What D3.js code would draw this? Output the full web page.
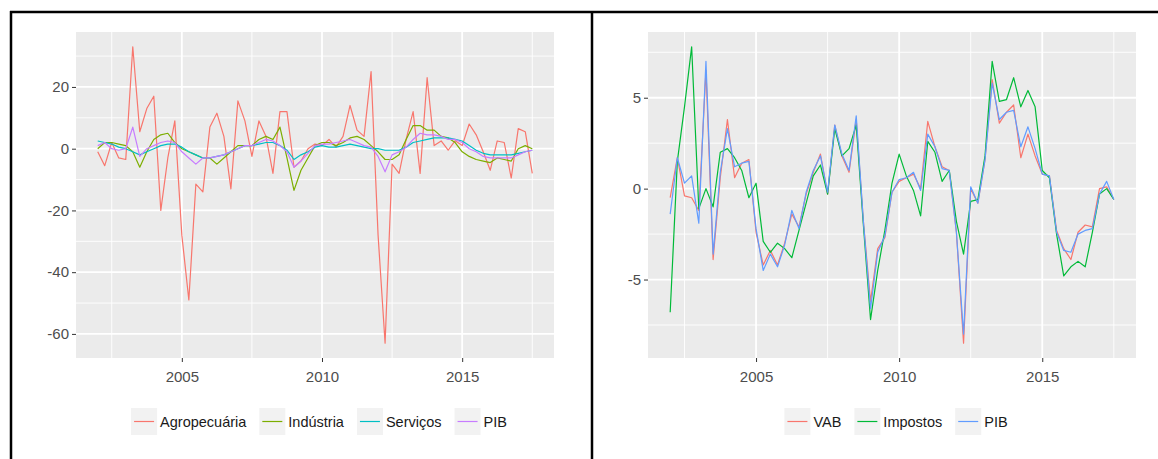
<!DOCTYPE html>
<html>
<head>
<meta charset="utf-8">
<script src="https://cdn.jsdelivr.net/npm/d3@7"></script>
<style>
  body { margin: 0; background: #fff; }
  svg { display: block; font-family: "Liberation Sans", Arial, sans-serif; }
</style>
</head>
<body>
<div id="chart"></div>
<script>
// quarterly rates, 2002Q1 .. 2017Q3
const quarters = d3.range(63).map(i => 2002 + i / 4)

// left panel: by sector
const agropecuaria = [-1, -5.5, 2, -3, -3.5, 33, 5.5, 13, 17, -20, -3, 9, -28, -49, -11.5, -14,
  7, 11.5, 4, -13, 15.5, 9, -2.5, 9, 4, -8, 12, 12, -6, -4, 0, 1.5, 1, 3, 0.5, 4, 14, 6, 4, 25,
  -28, -63, -5, -8, 3, 12, -8, 23, 1, 2.5, -0.5, 2.6, 1, 8, 4.5, -1, -7, 2.5, 2, -9.5, 6.5, 5.5, -8]
const industria = [0, 2, 2, 1.5, 1, -1, -6, -1, 3, 4.5, 5, 2, 0, -1, -2, -3, -3, -5, -3, -1,
  1, 1, 1, 3, 4, 3, 7, -3, -13.5, -7, -3, 1, 2, 2, 1, 2, 3.5, 4, 3, 1, -1, -3.5, -3.5, -2, 3,
  7.5, 7.5, 6, 6, 4, 3.5, 2, -1, -2.5, -3.5, -4, -4.5, -3, -3.5, -4, 0, 1, 0]
const servicos = [2.5, 2, 1.5, 0.5, 0, -1, -2, -1, 0, 1, 1.5, 1.5, 0.5, -1, -2, -3, -3, -2.5,
  -2, -1, 0, 1, 1, 1.5, 2, 2, 1, -0.5, -3.5, -2, -1, 0.5, 1, 0.5, 0.5, 1, 1.5, 1, 0.5, 0, 0,
  -0.5, -0.5, -0.5, 0.5, 2, 2.5, 3, 3.5, 3.5, 3.5, 3, 2.5, 1, -0.5, -1.5, -2, -2, -2, -2, -1.5, -1, -0.5]
const pibSetores = [1, 2, 0, -0.5, 0, 7, -2.5, 0, 1, 2, 2.5, 2, -1, -3, -5, -3, -3, -2.5, -2,
  -1, 0, 1, 1, 2, 3, 2.5, 1, -1, -6, -4, -1.5, 1, 1.5, 1.5, 2, 2.5, 3, 2, 1, 0.5, -2.5, -7.5,
  -2, -1, 0.5, 3, 5, 4.5, 4.5, 4, 3, 3, 2, 0, -1, -2.5, -3, -3, -3, -3, -2, -1, -0.5]

// right panel: value added and taxes
const vab = [-0.5, 1.7, -0.4, -0.5, -1.2, 6.5, -3.9, 0.6, 3.8, 0.6, 1.4, 1.6, -2.4, -4.2, -3.4,
  -4.2, -3.0, -1.4, -2.1, -0.3, 0.9, 1.9, -0.3, 3.5, 1.8, 0.9, 3.8, -1.8, -6.2, -3.3, -2.7, -0.2,
  0.4, 0.6, 0.8, 0.0, 3.7, 2.3, 1.2, 1.0, -2.4, -8.5, 0.0, -0.8, 1.6, 6.0, 3.6, 4.2, 4.6, 1.7,
  3.0, 1.8, 0.8, 0.7, -2.3, -3.3, -3.9, -2.4, -2.0, -2.1, 0.0, 0.1, -0.6]
const impostos = [-6.8, 1.5, 4.5, 7.8, -1.1, 0.0, -1.0, 2.0, 2.2, 1.7, 1.0, -0.5, 0.3, -2.9, -3.5,
  -3.0, -3.3, -3.8, -2.3, -0.8, 0.7, 1.3, -0.3, 3.3, 1.8, 2.2, 3.5, -2.0, -7.2, -4.5, -2.3, 0.3,
  1.9, 0.7, -0.1, -1.5, 2.6, 2.0, 0.4, 1.0, -1.8, -3.6, -0.7, -0.6, 1.8, 7.0, 4.8, 4.9, 6.1, 4.5,
  5.4, 4.5, 1.0, 0.6, -2.5, -4.8, -4.3, -4.0, -4.3, -2.4, -0.3, 0.0, -0.6]
const pibDemanda = [-1.4, 1.7, 0.3, 0.7, -1.9, 7.0, -3.6, 0.9, 3.3, 1.2, 1.4, 1.5, -2.2, -4.5, -3.6,
  -4.3, -3.1, -1.2, -2.2, -0.2, 1.0, 1.8, -0.2, 3.5, 1.9, 1.0, 4.0, -1.8, -6.6, -3.5, -2.6, -0.2,
  0.5, 0.6, 0.9, -0.1, 3.0, 2.3, 1.1, 1.0, -2.4, -8.0, 0.1, -0.8, 1.6, 5.8, 3.8, 4.2, 4.3, 2.3,
  3.4, 2.2, 0.8, 0.7, -2.4, -3.4, -3.5, -2.5, -2.3, -2.2, -0.3, 0.4, -0.6]

const xTicks = [2005, 2010, 2015]
const yTicksSetores = [-60, -40, -20, 0, 20]
const yTicksDemanda = [-5, 0, 5]

const setores = [
  { name: 'Agropecuária', values: agropecuaria, color: '#F8766D' },
  { name: 'Indústria', values: industria, color: '#7CAE00' },
  { name: 'Serviços', values: servicos, color: '#00BFC4' },
  { name: 'PIB', values: pibSetores, color: '#C77CFF' }
]
const demanda = [
  { name: 'VAB', values: vab, color: '#F8766D' },
  { name: 'Impostos', values: impostos, color: '#00BA38' },
  { name: 'PIB', values: pibDemanda, color: '#619CFF' }
]

const W = 1158, H = 459

const svg = d3.select('#chart').append('svg')
  .attr('width', W)
  .attr('height', H)

svg.append('rect').attr('width', W).attr('height', H).attr('fill', '#fff')

// ggplot style 5% expansion
const expand = ([a, b]) => { const d = (b - a) * 0.05; return [a - d, b + d] }

// plain hyphen for negatives, like R
const fmt = d => String(d)

function minorBreaks(ticks, domain) {
  const step = ticks[1] - ticks[0]
  const out = []
  for (let v = ticks[0] - step / 2; v <= ticks[ticks.length - 1] + step / 2; v += step) {
    if (v >= domain[0] && v <= domain[1]) out.push(v)
  }
  return out
}

function drawPanel(box, series, yTicks) {
  const x = d3.scaleLinear().domain(expand(d3.extent(quarters))).range([box.left, box.right])
  const allValues = series.flatMap(s => s.values)
  const y = d3.scaleLinear().domain(expand(d3.extent(allValues))).range([box.bottom, box.top])

  const g = svg.append('g')

  g.append('rect')
    .attr('x', box.left).attr('y', box.top)
    .attr('width', box.right - box.left).attr('height', box.bottom - box.top)
    .attr('fill', '#EBEBEB')

  // grid
  const grid = g.append('g').attr('stroke', '#fff').attr('fill', 'none')
  minorBreaks(yTicks, y.domain()).forEach(v => {
    grid.append('line').attr('x1', box.left).attr('x2', box.right)
      .attr('y1', y(v)).attr('y2', y(v)).attr('stroke-width', 0.9)
  })
  minorBreaks(xTicks, x.domain()).forEach(v => {
    grid.append('line').attr('y1', box.top).attr('y2', box.bottom)
      .attr('x1', x(v)).attr('x2', x(v)).attr('stroke-width', 0.9)
  })
  yTicks.forEach(v => {
    grid.append('line').attr('x1', box.left).attr('x2', box.right)
      .attr('y1', y(v)).attr('y2', y(v)).attr('stroke-width', 1.8)
  })
  xTicks.forEach(v => {
    grid.append('line').attr('y1', box.top).attr('y2', box.bottom)
      .attr('x1', x(v)).attr('x2', x(v)).attr('stroke-width', 1.8)
  })

  // lines
  const line = d3.line()
    .x((d, i) => x(quarters[i]))
    .y(d => y(d))

  g.selectAll('.serie')
    .data(series)
    .enter().append('path')
      .attr('class', 'serie')
      .attr('d', d => line(d.values))
      .attr('fill', 'none')
      .attr('stroke', d => d.color)
      .attr('stroke-width', 1.2)
      .attr('stroke-linejoin', 'round')

  // axes
  function styleAxis(a) {
    a.select('.domain').remove()
    a.selectAll('.tick line').attr('stroke', '#333').attr('stroke-width', 1)
    a.selectAll('.tick text').attr('fill', '#4D4D4D').style('font-size', '15px')
  }

  g.append('g')
    .attr('transform', 'translate(0,' + box.bottom + ')')
    .call(d3.axisBottom(x).tickValues(xTicks).tickFormat(fmt).tickSize(4).tickPadding(9))
    .call(styleAxis)

  g.append('g')
    .attr('transform', 'translate(' + box.left + ',0)')
    .call(d3.axisLeft(y).tickValues(yTicks).tickFormat(fmt).tickSize(4).tickPadding(3))
    .call(styleAxis)

  // legend
  const legend = g.append('g')
  let pos = 0
  series.forEach(s => {
    const item = legend.append('g').attr('transform', 'translate(' + pos + ',0)')
    item.append('rect')
      .attr('width', 26).attr('height', 27).attr('y', -13.5)
      .attr('fill', '#F2F2F2')
    item.append('line')
      .attr('x1', 3).attr('x2', 23)
      .attr('stroke', s.color).attr('stroke-width', 1.2)
    const t = item.append('text')
      .attr('x', 29).attr('dy', '0.35em')
      .attr('fill', '#1A1A1A')
      .style('font-size', '14.5px')
      .text(s.name)
    pos += 29 + t.node().getComputedTextLength() + 13
  })
  pos -= 13
  const cx = (box.left + box.right) / 2 + 4
  legend.attr('transform', 'translate(' + (cx - pos / 2) + ',' + 421.5 + ')')
}

drawPanel({ left: 76, right: 554, top: 32, bottom: 358 }, setores, yTicksSetores)
drawPanel({ left: 648, right: 1136, top: 32, bottom: 358 }, demanda, yTicksDemanda)

// frame
const frame = svg.append('g').attr('stroke', '#000').attr('stroke-width', 2.5)
frame.append('line').attr('x1', 10).attr('x2', W).attr('y1', 12).attr('y2', 12)
frame.append('line').attr('x1', 11).attr('x2', 11).attr('y1', 11).attr('y2', H)
frame.append('line').attr('x1', 592).attr('x2', 592).attr('y1', 11).attr('y2', H)
</script>
</body>
</html>
